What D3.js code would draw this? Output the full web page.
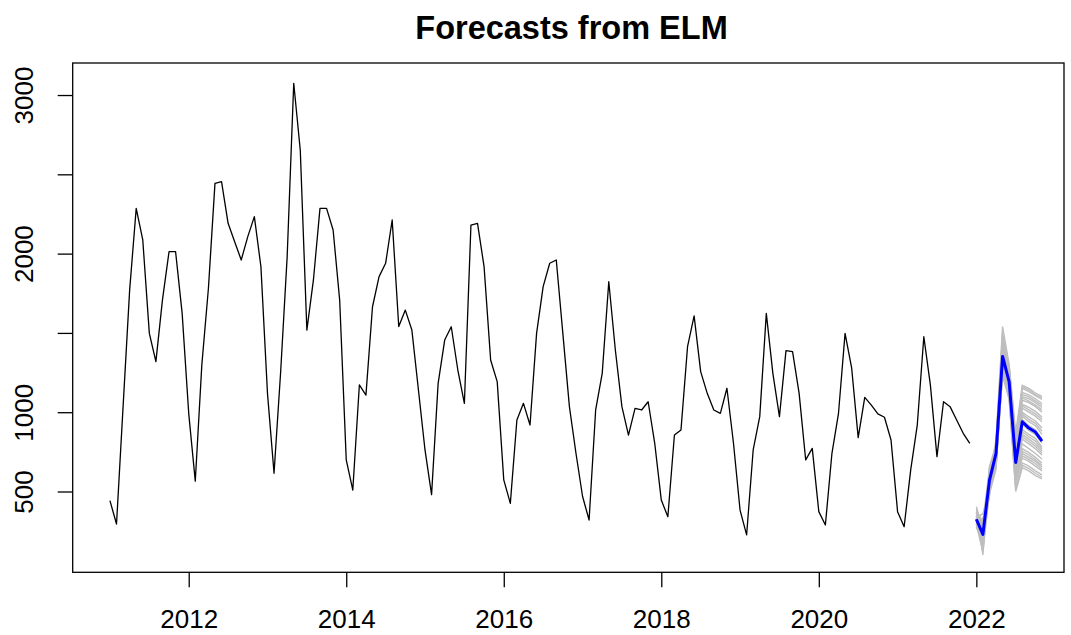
<!DOCTYPE html>
<html>
<head>
<meta charset="utf-8">
<script src="https://cdn.jsdelivr.net/npm/d3@7"></script>
<style>
  body { margin: 0; background: #fff; }
  svg { display: block; }
  text { font-family: "Liberation Sans", Arial, sans-serif; fill: #000; }
</style>
</head>
<body>
<svg id="chart" width="1071" height="635"></svg>
<script>
// Monthly series, Jan 2011 – Dec 2021
const titleText = "Forecasts from ELM";
const seriesStart = 2011;
const frequency = 12;
const observed = [
  442, 295, 1035, 1770, 2285, 2086, 1497, 1319, 1708, 2012, 2012, 1623,
  993, 565, 1300, 1780, 2443, 2454, 2191, 2075, 1960, 2107, 2233, 1918,
  1119, 615, 1250, 1981, 3074, 2650, 1518, 1834, 2285, 2285, 2149, 1707,
  699, 509, 1172, 1108, 1665, 1855, 1939, 2212, 1540, 1644, 1518, 1140,
  762, 480, 1182, 1455, 1539, 1266, 1056, 2180, 2191, 1918, 1329, 1193,
  573, 425, 951, 1056, 919, 1497, 1792, 1939, 1960, 1497, 1035, 741,
  470, 320, 1014, 1245, 1823, 1392, 1035, 856, 1024, 1014, 1066, 804,
  446, 341, 856, 888, 1413, 1607, 1256, 1119, 1014, 993, 1151, 804,
  383, 226, 762, 972, 1623, 1245, 972, 1388, 1382, 1119, 699, 772,
  373, 289, 741, 993, 1497, 1280, 840, 1094, 1045, 989, 968, 825,
  373, 278, 636, 919, 1476, 1171, 720, 1066, 1035, 951, 867, 804
];

// Forecast, Jan 2022 onwards: combined forecast and the individual network runs
const forecastStart = 2022;
const forecastMean = [325, 230, 570, 740, 1352, 1192, 683, 940, 900, 875, 817];
const run01 = [300, 220, 560, 830, 1540, 1300, 870, 1170, 1150, 1120, 1100];
const run02 = [370, 100, 640, 700, 1230, 1080, 500, 650, 630, 600, 580];
const run03 = [285, 330, 470, 810, 1500, 1285, 840, 1150, 1130, 1105, 1080];
const run04 = [405, 255, 598, 655, 1250, 1095, 530, 680, 660, 630, 605];
const run05 = [318, 130, 615, 795, 1470, 1270, 810, 1125, 1110, 1085, 1055];
const run06 = [360, 300, 500, 670, 1265, 1110, 560, 710, 690, 660, 630];
const run07 = [275, 180, 660, 785, 1445, 1255, 785, 1100, 1085, 1060, 1030];
const run08 = [390, 265, 540, 680, 1280, 1120, 585, 740, 715, 690, 655];
const run09 = [327, 150, 582, 775, 1425, 1245, 765, 1075, 1060, 1035, 1000];
const run10 = [335, 360, 510, 690, 1290, 1130, 605, 770, 745, 715, 680];
const run11 = [295, 240, 625, 768, 1410, 1235, 750, 1050, 1030, 1005, 970];
const run12 = [350, 190, 485, 640, 1300, 1140, 620, 800, 770, 740, 705];
const run13 = [305, 280, 605, 760, 1395, 1225, 735, 1025, 1000, 975, 940];
const run14 = [345, 200, 550, 720, 1310, 1150, 640, 830, 800, 770, 730];
const run15 = [310, 248, 590, 752, 1380, 1215, 720, 1000, 970, 945, 900];
const run16 = [340, 165, 530, 710, 1320, 1160, 655, 860, 830, 800, 755];
const run17 = [322, 235, 576, 746, 1365, 1205, 705, 975, 940, 915, 860];
const run18 = [330, 210, 520, 728, 1335, 1170, 668, 890, 860, 835, 780];
const run19 = [315, 232, 572, 742, 1355, 1195, 690, 955, 915, 890, 830];
const run20 = [325, 226, 566, 736, 1348, 1188, 678, 925, 885, 860, 805];
const run21 = [380, 310, 645, 800, 1480, 1290, 820, 1160, 1140, 1110, 1090];
const run22 = [290, 120, 495, 660, 1240, 1090, 515, 665, 645, 615, 590];
const run23 = [355, 270, 610, 780, 1435, 1250, 775, 1090, 1070, 1045, 1015];
const run24 = [300, 175, 515, 685, 1285, 1125, 595, 755, 730, 700, 665];
const run25 = [342, 250, 594, 765, 1400, 1230, 742, 1040, 1015, 990, 955];
const run26 = [312, 205, 545, 715, 1315, 1155, 648, 845, 815, 785, 742];
const run27 = [365, 290, 620, 790, 1455, 1262, 795, 1112, 1098, 1072, 1042];
const run28 = [298, 160, 505, 675, 1272, 1115, 572, 725, 702, 675, 642];
const run29 = [332, 238, 580, 750, 1372, 1210, 712, 988, 955, 930, 880];
const run30 = [318, 215, 555, 724, 1328, 1165, 662, 875, 845, 818, 768];
const runs = [run01, run02, run03, run04, run05, run06, run07, run08, run09, run10,
              run11, run12, run13, run14, run15, run16, run17, run18, run19, run20,
              run21, run22, run23, run24, run25, run26, run27, run28, run29, run30];

// Axis ticks
const xTicks = [2012, 2014, 2016, 2018, 2020, 2022];
const yTicks = [500, 1000, 1500, 2000, 2500, 3000];
const yTickLabels = ["500", "1000", "", "2000", "", "3000"];

const svg = d3.select("#chart");
const plot = { left: 72.7, right: 1064, top: 63, bottom: 572.3 };

const x = d3.scaleLinear().domain([2010.527, 2023.113]).range([plot.left, plot.right]);
const y = d3.scaleLinear().domain([-9.5, 3202]).range([plot.bottom, plot.top]);

const lineFrom = start => d3.line()
  .x((d, i) => x(start + i / frequency))
  .y(d => y(d));

// ensemble runs
svg.append("g").selectAll("path").data(runs).join("path")
  .attr("d", lineFrom(forecastStart))
  .attr("fill", "none")
  .attr("stroke", "#bebebe")
  .attr("stroke-width", 1.4);

// observed series
svg.append("path").datum(observed)
  .attr("d", lineFrom(seriesStart))
  .attr("fill", "none")
  .attr("stroke", "#000")
  .attr("stroke-width", 1.3)
  .attr("stroke-linejoin", "round");

// combined forecast
svg.append("path").datum(forecastMean)
  .attr("d", lineFrom(forecastStart))
  .attr("fill", "none")
  .attr("stroke", "#0000ff")
  .attr("stroke-width", 3)
  .attr("stroke-linejoin", "round");

// plot frame
svg.append("rect")
  .attr("x", plot.left).attr("y", plot.top)
  .attr("width", plot.right - plot.left).attr("height", plot.bottom - plot.top)
  .attr("fill", "none").attr("stroke", "#000").attr("stroke-width", 1.3);

// bottom axis
const xAxis = svg.append("g")
  .attr("transform", `translate(0,${plot.bottom})`)
  .call(d3.axisBottom(x).tickValues(xTicks).tickFormat(d3.format("d")).tickSize(15).tickPadding(22));
xAxis.select(".domain").remove();
xAxis.selectAll(".tick line").attr("stroke", "#000").attr("stroke-width", 1.3);
xAxis.selectAll(".tick text").attr("font-size", 26).attr("font-family", "Liberation Sans, Arial, sans-serif");

// left axis
const yAxis = svg.append("g")
  .attr("transform", `translate(${plot.left},0)`)
  .call(d3.axisLeft(y).tickValues(yTicks).tickFormat((d, i) => yTickLabels[i]).tickSize(15));
yAxis.select(".domain").remove();
yAxis.selectAll(".tick line").attr("stroke", "#000").attr("stroke-width", 1.3);
yAxis.selectAll(".tick text")
  .attr("font-size", 26)
  .attr("font-family", "Liberation Sans, Arial, sans-serif")
  .attr("text-anchor", "middle")
  .attr("dy", 0)
  .attr("x", 0)
  .attr("transform", "translate(-40,0) rotate(-90)");

// title
svg.append("text")
  .attr("x", 571.5).attr("y", 39)
  .attr("text-anchor", "middle")
  .attr("font-size", 32.5)
  .attr("font-weight", "bold")
  .text(titleText);
</script>
</body>
</html>
